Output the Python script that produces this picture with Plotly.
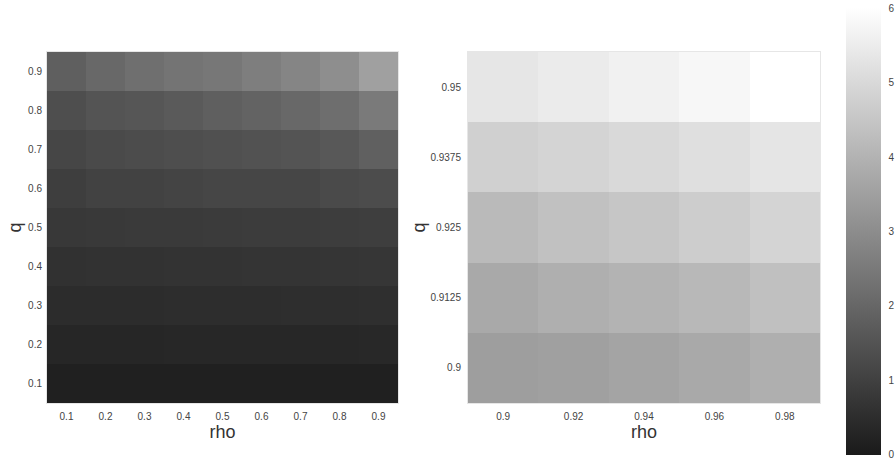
import plotly.graph_objects as go

# Left heatmap
rho_left = [0.1, 0.2, 0.3, 0.4, 0.5, 0.6, 0.7, 0.8, 0.9]
q_left = [0.1, 0.2, 0.3, 0.4, 0.5, 0.6, 0.7, 0.8, 0.9]
z_left = [
    [0.16, 0.16, 0.16, 0.16, 0.16, 0.16, 0.16, 0.16, 0.16],  # q=0.1
    [0.31, 0.31, 0.31, 0.34, 0.34, 0.34, 0.34, 0.34, 0.37],  # q=0.2
    [0.47, 0.47, 0.47, 0.50, 0.50, 0.50, 0.52, 0.52, 0.55],  # q=0.3
    [0.60, 0.63, 0.63, 0.66, 0.66, 0.68, 0.68, 0.71, 0.73],  # q=0.4
    [0.79, 0.81, 0.84, 0.84, 0.86, 0.89, 0.89, 0.92, 0.94],  # q=0.5
    [0.94, 1.05, 1.05, 1.10, 1.15, 1.15, 1.15, 1.26, 1.31],  # q=0.6
    [1.15, 1.26, 1.31, 1.36, 1.41, 1.47, 1.52, 1.62, 1.83],  # q=0.7
    [1.36, 1.52, 1.57, 1.68, 1.81, 1.91, 2.04, 2.20, 2.52],  # q=0.8
    [1.81, 2.04, 2.23, 2.36, 2.44, 2.62, 2.80, 3.04, 3.51],  # q=0.9
]

# Right heatmap
rho_right = [0.9, 0.92, 0.94, 0.96, 0.98]
q_right = [0.9, 0.9125, 0.925, 0.9375, 0.95]
q_right_labels = ["0.9", "0.9125", "0.925", "0.9375", "0.95"]
z_right = [
    [3.46, 3.51, 3.62, 3.75, 3.90],  # q=0.9
    [3.75, 3.90, 4.01, 4.14, 4.35],  # q=0.9125
    [4.19, 4.38, 4.51, 4.69, 4.87],  # q=0.925
    [4.77, 4.87, 5.00, 5.16, 5.32],  # q=0.9375
    [5.34, 5.47, 5.63, 5.79, 6.00],  # q=0.95
]

cb_ticks = [0, 1, 2, 3, 4, 5, 6]
z_min, z_max = -0.001, 6.001

colorscale = [[0.0, "#1a1a1a"], [1.0, "#ffffff"]]
FONT = "Liberation Sans, Arial, sans-serif"

fig = go.Figure()
fig.add_trace(go.Heatmap(
    x=rho_left, y=q_left, z=z_left, zmin=z_min, zmax=z_max,
    colorscale=colorscale, showscale=False, xaxis="x", yaxis="y",
    hoverinfo="skip",
))
fig.add_trace(go.Heatmap(
    x=rho_right, y=q_right, z=z_right, zmin=z_min, zmax=z_max,
    colorscale=colorscale, xaxis="x2", yaxis="y2", hoverinfo="skip",
    colorbar=dict(
        x=846 / 896, xanchor="left", xref="paper",
        y=1 - 231.5 / 460, yanchor="middle",
        lenmode="pixels", len=447, thickness=35, thicknessmode="pixels",
        outlinewidth=0, tickvals=cb_ticks,
        ticks="outside", ticklen=6, tickcolor="rgba(0,0,0,0)",
        ticklabeloverflow="allow",
        tickfont=dict(size=10, color="#444", family=FONT),
        xpad=0, ypad=0,
    ),
))

axis_common = dict(
    showgrid=False, zeroline=False, ticks="",
    tickfont=dict(size=10, color="#444", family=FONT),
    showline=True, linecolor="#e6e6e6", linewidth=1, mirror=True,
)

fig.update_layout(
    width=896, height=460,
    margin=dict(l=0, r=0, t=0, b=0, autoexpand=False),
    paper_bgcolor="white", plot_bgcolor="white",
    font=dict(family=FONT),
    xaxis=dict(domain=[47 / 896, 398 / 896], anchor="y",
               tickvals=rho_left, range=[0.05, 0.95], ticklabelstandoff=4,
               title=dict(text="rho", font=dict(size=18, color="#333"), standoff=4),
               **axis_common),
    yaxis=dict(domain=[1 - 403 / 460, 1 - 52 / 460], anchor="x",
               tickvals=q_left, range=[0.05, 0.95], ticklabelstandoff=2,
               title=dict(text="q", font=dict(size=18, color="#333"), standoff=1),
               **axis_common),
    xaxis2=dict(domain=[468 / 896, 820 / 896], anchor="y2",
                tickvals=rho_right, range=[0.89, 0.99], ticklabelstandoff=4,
                title=dict(text="rho", font=dict(size=18, color="#333"), standoff=4),
                **axis_common),
    yaxis2=dict(domain=[1 - 403 / 460, 1 - 52 / 460], anchor="x2",
                tickvals=q_right, ticktext=q_right_labels, range=[0.89375, 0.95625],
                ticklabelstandoff=4,
                title=dict(text="q", font=dict(size=18, color="#333"), standoff=0),
                **axis_common),
)

fig.write_html(
    "out.html",
    config={"displayModeBar": False},
    post_script="document.body.style.margin='0';document.body.style.overflow='hidden';",
)
